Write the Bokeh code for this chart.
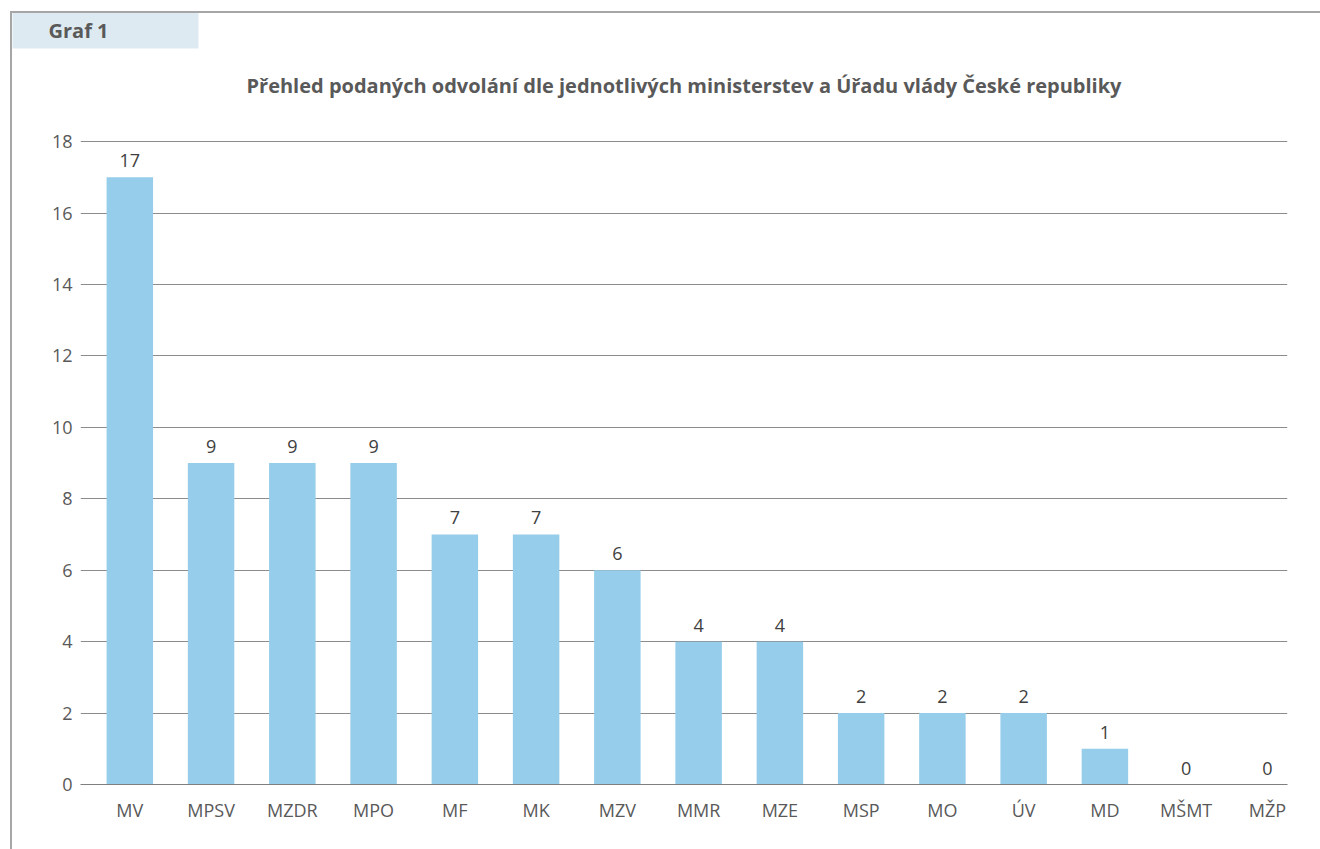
from bokeh.plotting import figure
from bokeh.models import (ColumnDataSource, LabelSet, FixedTicker, Range1d,
                          Title, InlineStyleSheet)
from bokeh.core.properties import value
from bokeh.embed import file_html
from bokeh.resources import INLINE

categories = ["MV", "MPSV", "MZDR", "MPO", "MF", "MK", "MZV", "MMR", "MZE",
              "MSP", "MO", "ÚV", "MD", "MŠMT", "MŽP"]
counts = [17, 9, 9, 9, 7, 7, 6, 4, 4, 2, 2, 2, 1, 0, 0]
y_ticks = [0, 2, 4, 6, 8, 10, 12, 14, 16, 18]
title_text = "Přehled podaných odvolání dle jednotlivých ministerstev a Úřadu vlády České republiky"
badge_text = "Graf 1"

FONT = "Open Sans"
TXT = "#595959"

positions = [i + 0.5 for i in range(len(categories))]

W, H = 1320, 849
p = figure(width=W, height=H,
           x_range=Range1d(-0.107, 14.747),
           y_range=Range1d(0, 18.03),
           output_backend="svg", toolbar_location=None,
           title_location=None,
           min_border_left=80, min_border_right=33,
           min_border_top=140, min_border_bottom=65)
p.outline_line_color = None
p.background_fill_color = "white"
p.border_fill_color = "white"

src = ColumnDataSource(dict(x=positions, cat=categories, val=counts,
                            lbl=[str(v) for v in counts]))
p.vbar(x="x", top="val", width=0.572, source=src,
       fill_color="#95cdea", line_color=None)

labels = LabelSet(x="x", y="val", text="lbl", source=src,
                  y_offset=10, text_align="center", text_baseline="alphabetic",
                  text_font=value(FONT), text_font_size="18px", text_color="#404040")
p.add_layout(labels)

# axes
p.yaxis.ticker = FixedTicker(ticks=y_ticks)
p.yaxis.axis_line_color = None
p.yaxis.major_tick_line_color = None
p.yaxis.minor_tick_line_color = None
p.yaxis.major_tick_out = 0
p.yaxis.major_tick_in = 0
p.yaxis.major_label_standoff = 8
p.yaxis.major_label_text_font = FONT
p.yaxis.major_label_text_font_size = "18px"
p.yaxis.major_label_text_color = TXT

p.xaxis.ticker = FixedTicker(ticks=positions)
p.xaxis.major_label_overrides = {x: c for x, c in zip(positions, categories)}
p.xaxis.axis_line_color = "#7f7f7f"
p.xaxis.axis_line_width = 1
p.xaxis.major_tick_line_color = None
p.xaxis.minor_tick_line_color = None
p.xaxis.major_tick_out = 0
p.xaxis.major_tick_in = 0
p.xaxis.major_label_standoff = 13
p.xaxis.major_label_text_font = FONT
p.xaxis.major_label_text_font_size = "18px"
p.xaxis.major_label_text_color = TXT

p.xgrid.grid_line_color = None
p.ygrid.ticker = FixedTicker(ticks=y_ticks)
p.ygrid.grid_line_color = "#8c8c8c"
p.ygrid.grid_line_width = 1

# titles: nearest to frame first
spacer = Title(text=" ", text_font=FONT, text_font_size="1px", standoff=23,
               vertical_align="middle")
main_title = Title(text=title_text, text_font=FONT, text_font_size="20px",
                   text_font_style="bold", text_color=TXT, align="center",
                   vertical_align="middle", standoff=30)
badge = Title(text=badge_text, text_font=FONT, text_font_size="20px",
              text_font_style="bold", text_color=TXT, align="left",
              vertical_align="middle", offset=-68, standoff=12,
              background_fill_color="#deeaf1",
              padding=dict(left=36, right=90, top=4, bottom=5))
p.add_layout(spacer, "above")
p.add_layout(main_title, "above")
p.add_layout(badge, "above")

css = InlineStyleSheet(css="""
:host { position: relative; }
:host::after {
  content: ""; position: absolute; left: 10px; top: 11px; right: 0px; bottom: 0px;
  border-top: 2px solid #a6a6a6; border-left: 2px solid #a6a6a6;
  pointer-events: none; z-index: 5;
}
""")
p.stylesheets = [css]

open("out.html", "w").write(file_html(p, INLINE))
